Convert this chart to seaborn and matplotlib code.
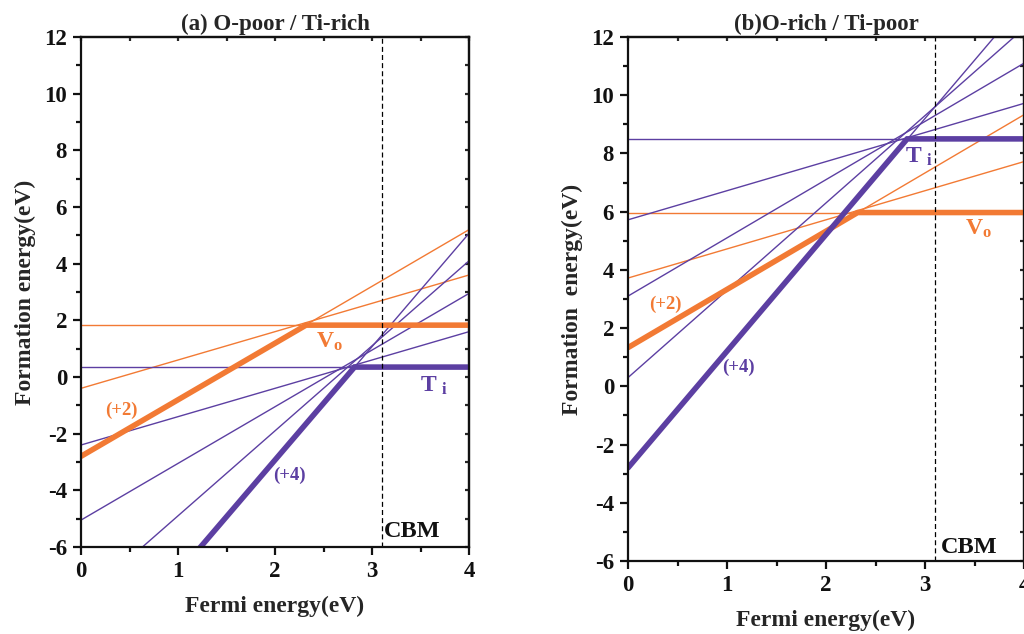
import matplotlib
matplotlib.use("Agg")
import matplotlib.pyplot as plt
import seaborn as sns
import pandas as pd
from matplotlib.ticker import MultipleLocator

# ---------------- data ----------------
x_ends = [0.0, 4.0]                       # Fermi-energy range of each line
# Panel (a) O-poor / Ti-rich : formation energy at E_F = 0 and E_F = 4
a_vo_charges = ["0", "+1", "+2"]
a_vo_at0 = [1.83, -0.40, -2.80]
a_vo_at4 = [1.83, 3.60, 5.20]
a_ti_charges = ["0", "+1", "+2", "+3", "+4"]
a_ti_at0 = [0.35, -2.40, -5.05, -7.90, -10.93]
a_ti_at4 = [0.35, 1.60, 2.95, 4.10, 5.07]
a_vo_env_x = [0.0, 2.32, 4.0]
a_vo_env_y = [-2.80, 1.83, 1.83]
a_ti_env_x = [0.0, 2.82, 4.0]
a_ti_env_y = [-10.93, 0.35, 0.35]

# Panel (b) O-rich / Ti-poor
b_vo_charges = ["0", "+1", "+2"]
b_vo_at0 = [5.97, 3.72, 1.33]
b_vo_at4 = [5.97, 7.72, 9.33]
b_ti_charges = ["0", "+1", "+2", "+3", "+4"]
b_ti_at0 = [8.50, 5.72, 3.10, 0.30, -2.80]
b_ti_at4 = [8.50, 9.72, 11.10, 12.30, 13.20]
b_vo_env_x = [0.0, 2.32, 4.0]
b_vo_env_y = [1.33, 5.97, 5.97]
b_ti_env_x = [0.0, 2.82, 4.0]
b_ti_env_y = [-2.80, 8.50, 8.50]

cbm = 3.10
titles = ["(a) O-poor / Ti-rich", "(b)O-rich / Ti-poor"]
xlabel = "Fermi energy(eV)"
ylabels = ["Formation energy(eV)", "Formation  energy(eV)"]
xticks = [0, 1, 2, 3, 4]
yticks = [-6, -4, -2, 0, 2, 4, 6, 8, 10, 12]

ORANGE = "#F27A34"
PURPLE = "#5C3FA2"

# ---------------- style ----------------
sns.set_theme(style="ticks")
plt.rcParams["font.family"] = ["Liberation Serif", "DejaVu Serif"]
plt.rcParams["font.weight"] = "bold"
plt.rcParams["axes.unicode_minus"] = False
plt.rcParams["mathtext.fontset"] = "custom"
plt.rcParams["mathtext.rm"] = "Liberation Serif:bold"
plt.rcParams["mathtext.bf"] = "Liberation Serif:bold"
plt.rcParams["mathtext.it"] = "Liberation Serif:bold"

fig = plt.figure(figsize=(10.24, 6.34), dpi=100)
ax1 = fig.add_axes([81 / 1024, 87 / 634, 388 / 1024, 510 / 634])
ax2 = fig.add_axes([628 / 1024, 73 / 634, 396 / 1024, 524 / 634])


def thin_lines(ax, charges, at0, at4, color):
    rows = []
    for q, y0, y4 in zip(charges, at0, at4):
        rows.append({"q": q, "x": x_ends[0], "y": y0})
        rows.append({"q": q, "x": x_ends[1], "y": y4})
    df = pd.DataFrame(rows)
    sns.lineplot(data=df, x="x", y="y", units="q", estimator=None,
                 color=color, lw=1.0, ax=ax, legend=False)


def thick_line(ax, xs, ys, color):
    df = pd.DataFrame({"x": xs, "y": ys})
    sns.lineplot(data=df, x="x", y="y", color=color, lw=4.0, ax=ax,
                 legend=False, estimator=None, sort=False,
                 solid_joinstyle="miter")


def style_axes(ax, title, ylabel):
    ax.set_xlim(0, 4)
    ax.set_ylim(-6, 12)
    ax.set_xticks(xticks)
    ax.set_yticks(yticks)
    ax.xaxis.set_minor_locator(MultipleLocator(0.5))
    ax.yaxis.set_minor_locator(MultipleLocator(1))
    for s in ax.spines.values():
        s.set_visible(True)
        s.set_linewidth(1.6)
        s.set_color("#111111")
    ax.tick_params(which="major", direction="out", length=6, width=1.6,
                   labelsize=16.5, colors="#111111", pad=4)
    ax.tick_params(which="minor", direction="out", length=3.5, width=1.6,
                   colors="#111111")
    for lab in ax.get_xticklabels() + ax.get_yticklabels():
        lab.set_fontweight("bold")
    sx = ax.secondary_xaxis("top")
    sx.set_xticks(xticks)
    sx.xaxis.set_minor_locator(MultipleLocator(0.5))
    sx.tick_params(which="both", direction="in", length=3, width=1.6,
                   labeltop=False)
    sy = ax.secondary_yaxis("right")
    sy.set_yticks(yticks)
    sy.yaxis.set_minor_locator(MultipleLocator(1))
    sy.tick_params(which="both", direction="in", length=3, width=1.6,
                   labelright=False)
    for s in list(sx.spines.values()) + list(sy.spines.values()):
        s.set_linewidth(1.6)
    ax.set_title(title, fontsize=16.5, fontweight="bold", pad=5)
    ax.set_xlabel(xlabel, fontsize=17, fontweight="bold", labelpad=10)
    ax.set_ylabel(ylabel, fontsize=17, fontweight="bold", labelpad=6)
    ax.axvline(cbm, color="black", lw=0.9, ls=(0, (4, 2.5)))


# ---------------- panel (a) ----------------
thin_lines(ax1, a_vo_charges, a_vo_at0, a_vo_at4, ORANGE)
thin_lines(ax1, a_ti_charges, a_ti_at0, a_ti_at4, PURPLE)
thick_line(ax1, a_vo_env_x, a_vo_env_y, ORANGE)
thick_line(ax1, a_ti_env_x, a_ti_env_y, PURPLE)
style_axes(ax1, titles[0], ylabels[0])
ax1.text(0.42, -1.17, "(+2)", color=ORANGE, fontsize=13.5, ha="center", va="center")
ax1.text(2.15, -3.46, "(+4)", color=PURPLE, fontsize=13.5, ha="center", va="center")
ax1.text(2.42, 1.25, r"V$_{\mathrm{o}}$", color=ORANGE, fontsize=17, ha="left", va="center")
ax1.text(3.5, -0.3, r"T $_{\mathrm{i}}$", color=PURPLE, fontsize=17, ha="left", va="center")
ax1.text(3.12, -5.45, "CBM", color="#111111", fontsize=17.5, ha="left", va="center")

# ---------------- panel (b) ----------------
thin_lines(ax2, b_vo_charges, b_vo_at0, b_vo_at4, ORANGE)
thin_lines(ax2, b_ti_charges, b_ti_at0, b_ti_at4, PURPLE)
thick_line(ax2, b_vo_env_x, b_vo_env_y, ORANGE)
thick_line(ax2, b_ti_env_x, b_ti_env_y, PURPLE)
style_axes(ax2, titles[1], ylabels[1])
ax2.text(0.38, 2.8, "(+2)", color=ORANGE, fontsize=13.5, ha="center", va="center")
ax2.text(1.12, 0.66, "(+4)", color=PURPLE, fontsize=13.5, ha="center", va="center")
ax2.text(3.4, 5.4, r"V$_{\mathrm{o}}$", color=ORANGE, fontsize=17, ha="left", va="center")
ax2.text(2.8, 7.9, r"T $_{\mathrm{i}}$", color=PURPLE, fontsize=17, ha="left", va="center")
ax2.text(3.16, -5.55, "CBM", color="#111111", fontsize=17.5, ha="left", va="center")

fig.savefig("out.png", dpi=100)
